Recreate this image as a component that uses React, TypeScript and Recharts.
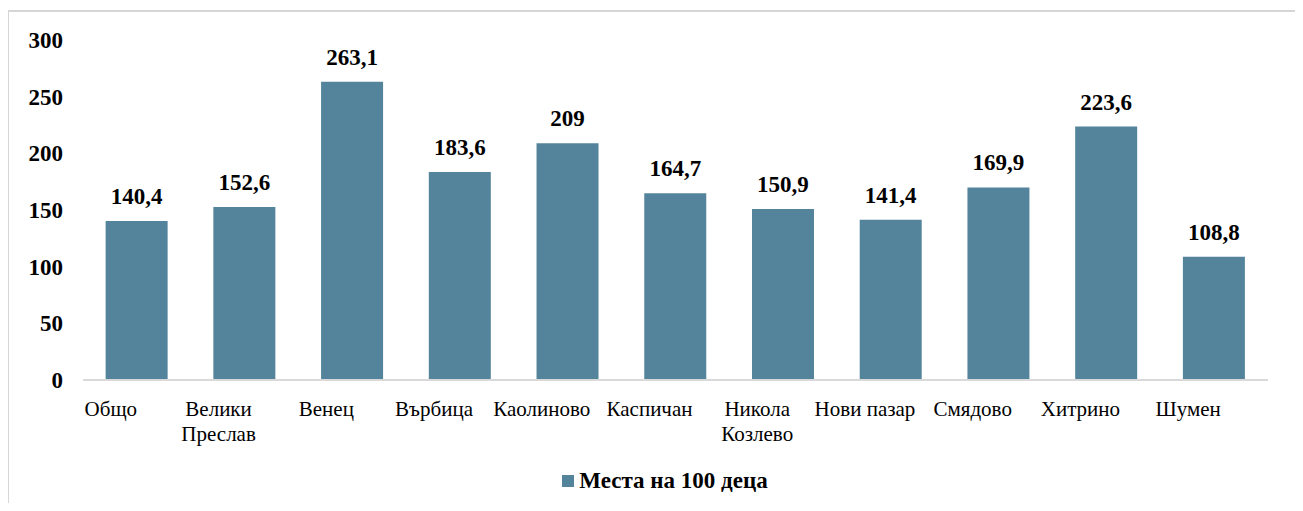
import React from "react"
import { BarChart, Bar, XAxis, YAxis, Legend, LabelList } from "recharts"

const categories = [
  "Общо",
  "Велики\nПреслав",
  "Венец",
  "Върбица",
  "Каолиново",
  "Каспичан",
  "Никола\nКозлево",
  "Нови пазар",
  "Смядово",
  "Хитрино",
  "Шумен",
]
const places = [140.4, 152.6, 263.1, 183.6, 209, 164.7, 150.9, 141.4, 169.9, 223.6, 108.8]
const yTicks = [0, 50, 100, 150, 200, 250, 300]
const seriesName = "Места на 100 деца"

const FONT = "Liberation Serif"
const BAR_COLOR = "#53849b"

const data = categories.map((name, i) => ({ name, value: places[i] }))

// category labels, split on explicit line breaks (Excel draws them a bit left of the bars)
function CategoryTick(props: any) {
  const { x, y, payload } = props
  const lines = String(payload.value).split("\n")
  return (
    <text x={x - 26} y={y} textAnchor="middle" style={{ fontFamily: FONT }} fontSize={21} fill="#000">
      {lines.map((line, i) => (
        <tspan key={i} x={x - 26} dy={i === 0 ? 28 : 25}>
          {line}
        </tspan>
      ))}
    </text>
  )
}

function LegendBox() {
  return (
    <div style={{ display: "flex", justifyContent: "center", alignItems: "center", fontFamily: FONT, paddingLeft: 62 }}>
      <span style={{ width: 12, height: 12, background: BAR_COLOR, marginRight: 5, display: "inline-block" }} />
      <span style={{ fontSize: 23, fontWeight: "bold", color: "#000", lineHeight: "26px" }}>{seriesName}</span>
    </div>
  )
}

export default function App() {
  return (
    <div style={{ position: "relative", width: 1303, height: 511, margin: -8, overflow: "hidden", background: "#fff", fontFamily: FONT }}>
      <div style={{ position: "absolute", left: 0, top: 0 }}>
        <BarChart
          width={1303}
          height={511}
          data={data}
          margin={{ top: 40, right: 35, left: 0, bottom: 5 }}
          barCategoryGap="21%"
          style={{ fontFamily: FONT }}
        >
          <XAxis
            dataKey="name"
            tickLine={false}
            axisLine={{ stroke: "#d9d9d9", strokeWidth: 2 }}
            interval={0}
            height={88}
            tick={<CategoryTick />}
          />
          <YAxis
            domain={[0, 300]}
            ticks={yTicks}
            width={83}
            axisLine={false}
            tickLine={false}
            tickMargin={14}
            tick={{ fontFamily: FONT, fontSize: 23, fontWeight: "bold", fill: "#000" }}
          />
          <Legend verticalAlign="bottom" height={38} content={<LegendBox />} />
          <Bar dataKey="value" name={seriesName} fill={BAR_COLOR} isAnimationActive={false}>
            <LabelList
              dataKey="value"
              position="top"
              offset={17}
              formatter={(v: any) => String(v).replace(".", ",")}
              style={{ fontFamily: FONT, fontSize: 23, fontWeight: "bold", fill: "#000" }}
            />
          </Bar>
        </BarChart>
      </div>
      {/* chart frame, drawn on top */}
      <div
        style={{
          position: "absolute",
          left: 7,
          top: 10,
          width: 1320,
          height: 540,
          borderTop: "2px solid #d6d6d6",
          borderLeft: "2px solid #d6d6d6",
          pointerEvents: "none",
        }}
      />
    </div>
  )
}
